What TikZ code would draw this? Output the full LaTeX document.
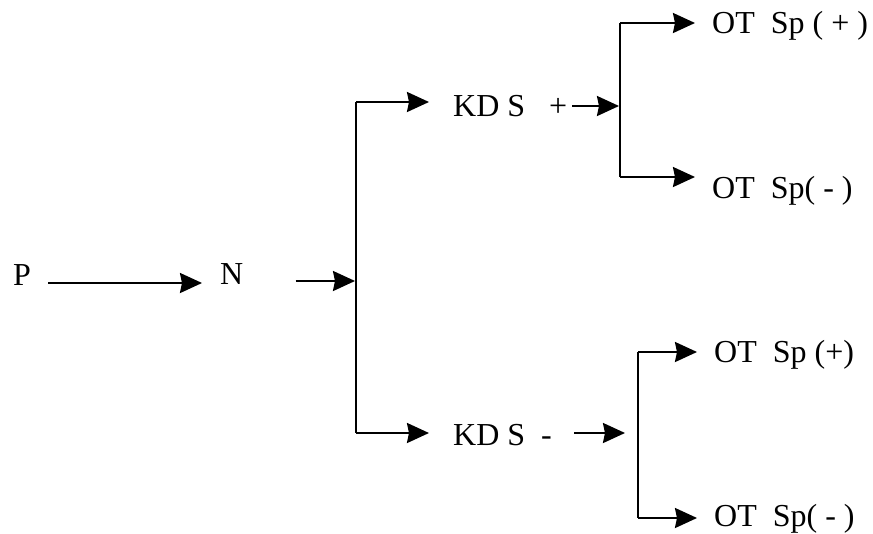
\documentclass[tikz,border=0pt]{standalone}
\usepackage{fontspec}
\setmainfont{Liberation Serif}
\usetikzlibrary{arrows.meta}
\tikzset{
  lbl/.style={inner sep=0pt, anchor=base west, font=\fontsize{32}{36}\selectfont},
  wire/.style={line width=2.3pt, line join=miter},
  conn/.style={wire, -{Stealth[length=22pt,width=20pt,inset=2pt]}}
}
\begin{document}
\begin{tikzpicture}[x=1pt,y=-1pt]
\useasboundingbox (0,0) rectangle (873,533);
% text nodes
\node[lbl] (P) at (13,285) {P};
\node[lbl] (N) at (220,284) {N};
\node[lbl] (KDp) at (453,116) {KD S\ \ \ +};
\node[lbl] (KDm) at (453,445) {KD S\ \ -};
\node[lbl] (OT1) at (712,33) {OT\ \ Sp ( + )};
\node[lbl] (OT2) at (712,198) {OT\ \ Sp( - )};
\node[lbl] (OT3) at (714,362) {OT\ \ Sp (+)};
\node[lbl] (OT4) at (714,526) {OT\ \ Sp( - )};
% junction coordinates
\coordinate (j1) at (356,281);
\coordinate (j1t) at (356,102);
\coordinate (j1b) at (356,433);
\coordinate (j2) at (620,106);
\coordinate (j2t) at (620,23);
\coordinate (j2b) at (620,177);
\coordinate (j3) at (638,433);
\coordinate (j3t) at (638,352);
\coordinate (j3b) at (638,518);
% first level
\draw[conn] ([xshift=17pt,yshift=2pt]P.base east) -- ([xshift=-18pt]N.west |- 0,283);
\draw[conn] ([xshift=52pt,yshift=3pt]N.base east) -- ([xshift=-1pt]j1);
\draw[wire] (j1t) -- (j1b);
\draw[conn] (j1t) -- ([xshift=-24pt]KDp.west |- j1t);
\draw[conn] (j1b) -- ([xshift=-24pt]KDm.west |- j1b);
% upper second level
\draw[conn] ([xshift=5pt]KDp.east |- j2) -- ([xshift=-1pt]j2);
\draw[wire] (j2t) -- (j2b);
\draw[conn] (j2t) -- ([xshift=-17pt]OT1.west |- j2t);
\draw[conn] (j2b) -- ([xshift=-17pt]OT2.west |- j2b);
% lower second level
\draw[conn] ([xshift=22pt]KDm.east |- j3) -- ([xshift=-13pt]j3);
\draw[wire] (j3t) -- (j3b);
\draw[conn] (j3t) -- ([xshift=-17pt]OT3.west |- j3t);
\draw[conn] (j3b) -- ([xshift=-17pt]OT4.west |- j3b);
\end{tikzpicture}
\end{document}
